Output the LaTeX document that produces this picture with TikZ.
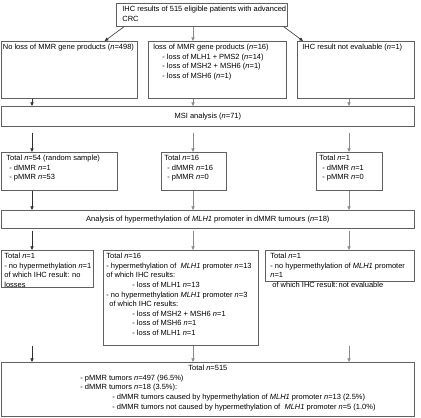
\documentclass[tikz,border=0pt]{standalone}
\usepackage{fontspec}
\setmainfont{Liberation Sans}
\usetikzlibrary{arrows.meta,calc}
\definecolor{boxgray}{HTML}{606060}
\definecolor{arrdark}{HTML}{303030}
\definecolor{arrlight}{HTML}{8A8A8A}
\newcommand{\nv}{\textit{n}}
\newcommand{\myind}[1]{\hspace*{#1}}
\newcommand{\fillbox}[3]{\parbox[c][#2][t]{#1}{\raggedright #3}}
\tikzset{
  bx/.style={draw=boxgray, line width=0.7pt, inner sep=3pt, anchor=north west,
    font=\fontsize{7.5}{9.6}\selectfont},
  cbx/.style={bx, align=center},
  arr/.style={draw=arrdark, line width=0.6pt, -{Triangle[length=3.6pt,width=3.2pt]}},
  arrl/.style={arr, draw=arrlight},
}
\begin{document}
\begin{tikzpicture}[x=1pt,y=-1pt]
\useasboundingbox (0,0) rectangle (421,418);
% top
\node[bx] (top) at (116,3) {\fillbox{165pt}{17pt}{\mbox{\myind{3pt}IHC results of 515 eligible patients with advanced}\\\myind{3pt}CRC}};
% row 2
\node[bx, inner xsep=1.5pt] (l2) at (1,41) {\fillbox{133pt}{51pt}{\mbox{No loss of MMR gene products (\nv=498)}}};
\node[bx] (m2) at (148,41) {\fillbox{132pt}{51pt}{\myind{2pt}loss of MMR gene products (\nv=16)\\
  \myind{11pt}- loss of MLH1 + PMS2 (\nv=14)\\
  \myind{11pt}- loss of MSH2 + MSH6 (\nv=1)\\
  \myind{11pt}- loss of MSH6 (\nv=1)}};
\node[bx] (r2) at (297,41) {\fillbox{111pt}{51pt}{\myind{2pt}IHC result not evaluable (\nv=1)}};
% MSI
\node[cbx, minimum width=413pt, minimum height=20pt] (msi) at (1,106) {MSI analysis (\nv=71)};
% row 3
\node[bx] (l3) at (1,152) {\fillbox{110pt}{32pt}{\myind{2pt}Total \nv=54 (random sample)\\
  \myind{5pt}- dMMR \nv=1\\ \myind{5pt}- pMMR \nv=53}};
\node[bx] (m3) at (161,152) {\fillbox{59pt}{32pt}{Total \nv=16\\
  \myind{3pt}- dMMR \nv=16\\ \myind{3pt}- pMMR \nv=0}};
\node[bx] (r3) at (316,152) {\fillbox{60pt}{32pt}{Total \nv=1\\
  \myind{3pt}- dMMR \nv=1\\ \myind{3pt}- pMMR \nv=0}};
% hypermethylation
\node[cbx, minimum width=413pt, minimum height=18pt] (hyp) at (1,210) {Analysis of hypermethylation of \textit{MLH1} promoter in dMMR tumours (\nv=18)};
% row 4
\node[bx, inner xsep=1.5pt] (l4) at (1,250) {\fillbox{89pt}{31pt}{\myind{1.5pt}Total \nv=1\\
  \mbox{\myind{1.5pt}- no hypermethylation \nv=1}\\
  \myind{1.5pt}of which IHC result: no\\
  \myind{1.5pt}losses}};
\node[bx] (m4) at (103,250) {\fillbox{149pt}{89pt}{Total \nv=16\\
  \mbox{- hypermethylation of \ \textit{MLH1} promoter \nv=13}\\
  of which IHC results:\\
  \myind{26pt}- loss of MLH1 \nv=13\\
  \mbox{- no hypermethylation \textit{MLH1} promoter \nv=3}\\
  \myind{3pt}of which IHC results:\\
  \myind{26pt}- loss of MSH2 + MSH6 \nv=1\\
  \myind{26pt}- loss of MSH6 \nv=1\\
  \myind{26pt}- loss of MLH1 \nv=1}};
\node[bx] (r4) at (265,250) {\fillbox{143pt}{25pt}{\myind{2pt}Total \nv=1\\
  \mbox{\myind{2pt}- no hypermethylation of \textit{MLH1} promoter}\\
  \myind{2pt}\nv=1\\
  \mbox{\myind{4pt}of which IHC result:\,not evaluable}}};
% bottom
\node[bx] (bot) at (1,362) {\parbox[c][48pt][t]{407pt}{\centering Total \nv=515\par
  \raggedright
  \myind{76pt}- pMMR tumors \nv=497 (96.5\%)\\
  \myind{76pt}- dMMR tumors \nv=18 (3.5\%):\\
  \myind{108pt}- dMMR tumors caused by hypermethylation of \textit{MLH1} promoter \nv=13 (2.5\%)\\
  \myind{108pt}- dMMR tumors not caused by hypermethylation of \ \textit{MLH1} promoter \nv=5 (1.0\%)}};
% column coordinates
\coordinate (cL) at (32,0);
\coordinate (cM) at (193,0);
\coordinate (cR) at (349,0);
% arrows top -> row 2
\draw[arr] ([xshift=8pt]top.south west) -- ([xshift=-33pt]l2.north east);
\draw[arrl] (top.south -| cM) -- (m2.north -| cM);
\draw[arr] ([xshift=-4pt]top.south east) -- ([xshift=6pt]r2.north west);
% row 2 -> MSI
\draw[arr] (l2.south -| cL) -- (msi.north -| cL);
\draw[arrl] (m2.south -| cM) -- (msi.north -| cM);
\draw[arrl] (r2.south -| cR) -- (msi.north -| cR);
% MSI -> row 3
\draw[arr] ([yshift=-6pt]msi.south -| cL) -- (l3.north -| cL);
\draw[arrl] ([yshift=-6pt]msi.south -| cM) -- (m3.north -| cM);
\draw[arrl] ([yshift=-6pt]msi.south -| cR) -- (r3.north -| cR);
% row 3 -> hyp
\draw[arr] (l3.south -| cL) -- (hyp.north -| cL);
\draw[arrl] (m3.south -| cM) -- (hyp.north -| cM);
\draw[arrl] (r3.south -| cR) -- (hyp.north -| cR);
% hyp -> row 4
\draw[arr] ([yshift=-2pt]hyp.south -| cL) -- (l4.north -| cL);
\draw[arrl] ([yshift=-2pt]hyp.south -| cM) -- (m4.north -| cM);
\draw[arrl] ([yshift=-2pt]hyp.south -| cR) -- (r4.north -| cR);
% row 4 -> bottom
\draw[arr] (m4.south -| cL) -- (bot.north -| cL);
\draw[arrl] (m4.south -| cM) -- (bot.north -| cM);
\draw[arrl] (m4.south -| cR) -- (bot.north -| cR);
\end{tikzpicture}
\end{document}
